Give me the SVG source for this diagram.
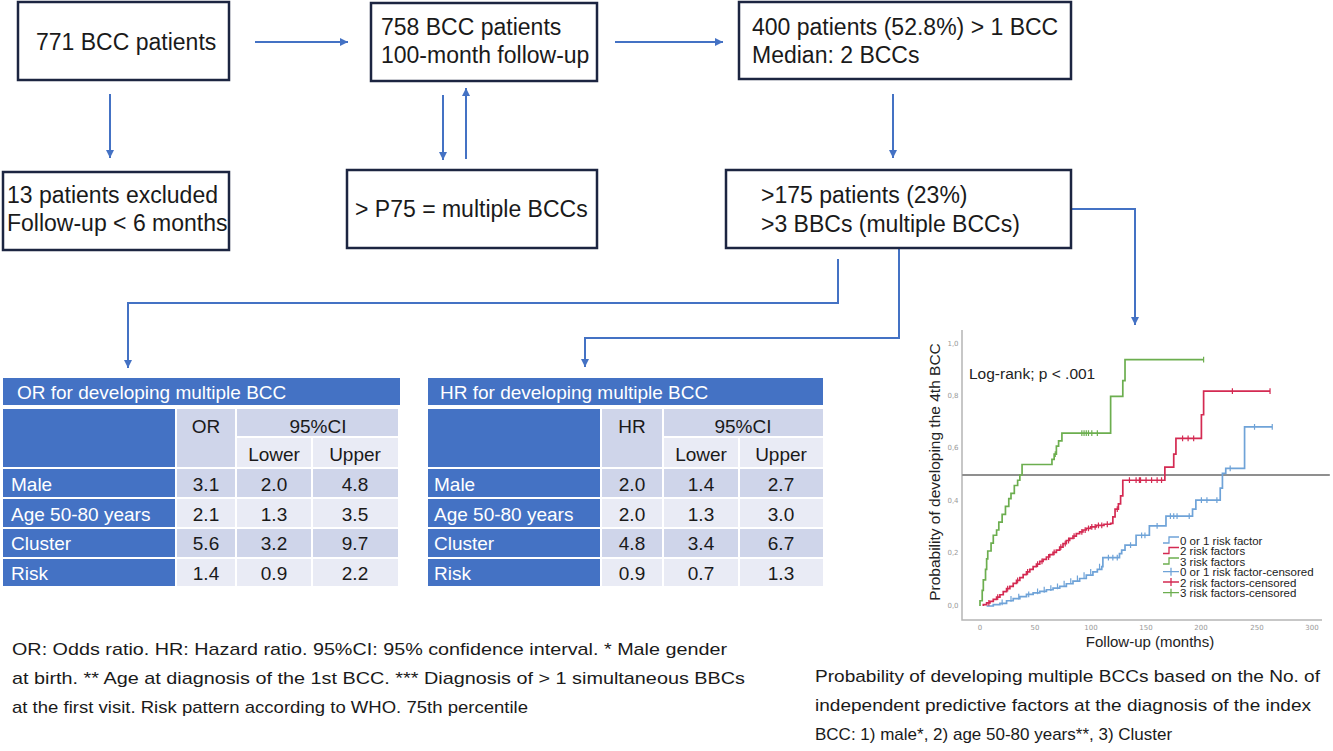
<svg xmlns="http://www.w3.org/2000/svg" width="1333" height="751" viewBox="0 0 1333 751">
<defs>
<style>
.box{fill:#fff;stroke:#1c2541;stroke-width:2.5}
.bt{font-family:"Liberation Sans",Arial,sans-serif;font-size:23px;fill:#1a1a1a}
.con{fill:none;stroke:#4472c4;stroke-width:2}
.hd{fill:#4472c4}
.c1{fill:#cfd5ea}
.c2{fill:#e9ebf5}
.tt{font-family:"Liberation Sans",Arial,sans-serif;font-size:19px;fill:#fff}
.td{font-family:"Liberation Sans",Arial,sans-serif;font-size:19px;fill:#1a1a1a;text-anchor:middle}
.note{font-family:"Liberation Sans",Arial,sans-serif;font-size:17px;fill:#1a1a1a}
.tick{font-family:"DejaVu Sans",sans-serif;font-size:7px;fill:#999;text-anchor:middle}
.lg{font-family:"Liberation Sans",Arial,sans-serif;font-size:11.5px;fill:#222}
.km{fill:none;stroke-width:1.7;vector-effect:non-scaling-stroke}
.cs{fill:none;stroke-width:1.2;vector-effect:non-scaling-stroke}
</style>
<marker id="ah" markerUnits="userSpaceOnUse" markerWidth="9" markerHeight="8" refX="8" refY="4" orient="auto">
<path d="M0,0 L8,4 L0,8 z" fill="#4472c4"/>
</marker>
</defs>
<rect width="1333" height="751" fill="#fff"/>

<g id="connectors">
<path class="con" d="M255,42 H348" marker-end="url(#ah)"/>
<path class="con" d="M615,42 H723" marker-end="url(#ah)"/>
<path class="con" d="M110,94 V158" marker-end="url(#ah)"/>
<path class="con" d="M443,95 V160" marker-end="url(#ah)"/>
<path class="con" d="M466,159 V88" marker-end="url(#ah)"/>
<path class="con" d="M893,94 V158" marker-end="url(#ah)"/>
<path class="con" d="M1071,209 H1135 V325" marker-end="url(#ah)"/>
<path class="con" d="M838,259 V303 H128 V368" marker-end="url(#ah)"/>
<path class="con" d="M899,248 V338 H585 V367" marker-end="url(#ah)"/>
</g>

<g id="n-771">
<rect class="box" x="18" y="2" width="211" height="78"/>
<text class="bt" x="36" y="50">771 BCC patients</text>
</g>
<g id="n-758">
<rect class="box" x="371" y="3" width="226" height="78"/>
<text class="bt" x="381" y="35">758 BCC patients</text>
<text class="bt" x="381" y="63">100-month follow-up</text>
</g>
<g id="n-400">
<rect class="box" x="739" y="2" width="332" height="77"/>
<text class="bt" x="752" y="35">400 patients (52.8%) &gt; 1 BCC</text>
<text class="bt" x="752" y="63">Median: 2 BCCs</text>
</g>
<g id="n-excluded">
<rect class="box" x="3" y="172" width="226" height="78"/>
<text class="bt" x="7" y="203">13 patients excluded</text>
<text class="bt" x="7" y="231">Follow-up &lt; 6 months</text>
</g>
<g id="n-p75">
<rect class="box" x="347" y="170" width="250" height="78"/>
<text class="bt" x="355" y="217">&gt; P75 = multiple BCCs</text>
</g>
<g id="n-175">
<rect class="box" x="726" y="170" width="345" height="78"/>
<text class="bt" x="761" y="203">&gt;175 patients (23%)</text>
<text class="bt" x="761" y="232">&gt;3 BBCs (multiple BCCs)</text>
</g>

<g id="t-or">
<rect class="hd" x="3" y="378" width="397" height="27"/>
<text class="tt" x="17" y="399">OR for developing multiple BCC</text>
<rect class="hd" x="3" y="409" width="172" height="58"/>
<rect class="c1" x="177" y="409" width="58" height="58"/>
<rect class="c1" x="237" y="409" width="161" height="27"/>
<rect class="c2" x="237" y="438" width="74" height="29"/>
<rect class="c2" x="313" y="438" width="85" height="29"/>
<text class="td" x="206" y="433">OR</text>
<text class="td" x="318" y="433">95%CI</text>
<text class="td" x="274" y="461">Lower</text>
<text class="td" x="355" y="461">Upper</text>
<rect class="hd" x="3" y="469" width="172" height="28"/>
<rect class="hd" x="3" y="499" width="172" height="28"/>
<rect class="hd" x="3" y="529" width="172" height="28"/>
<rect class="hd" x="3" y="559" width="172" height="27"/>
<rect class="c1" x="177" y="469" width="58" height="28"/><rect class="c1" x="237" y="469" width="74" height="28"/><rect class="c1" x="313" y="469" width="85" height="28"/>
<rect class="c2" x="177" y="499" width="58" height="28"/><rect class="c2" x="237" y="499" width="74" height="28"/><rect class="c2" x="313" y="499" width="85" height="28"/>
<rect class="c1" x="177" y="529" width="58" height="28"/><rect class="c1" x="237" y="529" width="74" height="28"/><rect class="c1" x="313" y="529" width="85" height="28"/>
<rect class="c2" x="177" y="559" width="58" height="27"/><rect class="c2" x="237" y="559" width="74" height="27"/><rect class="c2" x="313" y="559" width="85" height="27"/>
<text class="tt" x="11" y="491">Male</text>
<text class="tt" x="11" y="521">Age 50-80 years</text>
<text class="tt" x="11" y="550">Cluster</text>
<text class="tt" x="11" y="580">Risk</text>
<text class="td" x="206" y="491">3.1</text><text class="td" x="274" y="491">2.0</text><text class="td" x="355" y="491">4.8</text>
<text class="td" x="206" y="521">2.1</text><text class="td" x="274" y="521">1.3</text><text class="td" x="355" y="521">3.5</text>
<text class="td" x="206" y="550">5.6</text><text class="td" x="274" y="550">3.2</text><text class="td" x="355" y="550">9.7</text>
<text class="td" x="206" y="580">1.4</text><text class="td" x="274" y="580">0.9</text><text class="td" x="355" y="580">2.2</text>
</g>

<g id="t-hr">
<rect class="hd" x="428" y="378" width="395" height="27"/>
<text class="tt" x="440" y="399">HR for developing multiple BCC</text>
<rect class="hd" x="428" y="409" width="172" height="58"/>
<rect class="c1" x="602" y="409" width="60" height="58"/>
<rect class="c1" x="664" y="409" width="159" height="27"/>
<rect class="c2" x="664" y="438" width="74" height="29"/>
<rect class="c2" x="740" y="438" width="83" height="29"/>
<text class="td" x="632" y="433">HR</text>
<text class="td" x="743" y="433">95%CI</text>
<text class="td" x="701" y="461">Lower</text>
<text class="td" x="781" y="461">Upper</text>
<rect class="hd" x="428" y="469" width="172" height="28"/>
<rect class="hd" x="428" y="499" width="172" height="28"/>
<rect class="hd" x="428" y="529" width="172" height="28"/>
<rect class="hd" x="428" y="559" width="172" height="27"/>
<rect class="c1" x="602" y="469" width="60" height="28"/><rect class="c1" x="664" y="469" width="74" height="28"/><rect class="c1" x="740" y="469" width="83" height="28"/>
<rect class="c2" x="602" y="499" width="60" height="28"/><rect class="c2" x="664" y="499" width="74" height="28"/><rect class="c2" x="740" y="499" width="83" height="28"/>
<rect class="c1" x="602" y="529" width="60" height="28"/><rect class="c1" x="664" y="529" width="74" height="28"/><rect class="c1" x="740" y="529" width="83" height="28"/>
<rect class="c2" x="602" y="559" width="60" height="27"/><rect class="c2" x="664" y="559" width="74" height="27"/><rect class="c2" x="740" y="559" width="83" height="27"/>
<text class="tt" x="434" y="491">Male</text>
<text class="tt" x="434" y="521">Age 50-80 years</text>
<text class="tt" x="434" y="550">Cluster</text>
<text class="tt" x="434" y="580">Risk</text>
<text class="td" x="632" y="491">2.0</text><text class="td" x="701" y="491">1.4</text><text class="td" x="781" y="491">2.7</text>
<text class="td" x="632" y="521">2.0</text><text class="td" x="701" y="521">1.3</text><text class="td" x="781" y="521">3.0</text>
<text class="td" x="632" y="550">4.8</text><text class="td" x="701" y="550">3.4</text><text class="td" x="781" y="550">6.7</text>
<text class="td" x="632" y="580">0.9</text><text class="td" x="701" y="580">0.7</text><text class="td" x="781" y="580">1.3</text>
</g>

<g id="chart">
<path d="M962,330 V620 H1322" fill="none" stroke="#b5b5b5" stroke-width="1.5"/>
<text class="tick" x="953" y="346">1,0</text>
<text class="tick" x="953" y="398">0,8</text>
<text class="tick" x="953" y="450">0,6</text>
<text class="tick" x="953" y="503">0,4</text>
<text class="tick" x="953" y="555">0,2</text>
<text class="tick" x="953" y="608">0,0</text>
<text class="tick" x="980" y="630">0</text>
<text class="tick" x="1035" y="630">50</text>
<text class="tick" x="1091" y="630">100</text>
<text class="tick" x="1146" y="630">150</text>
<text class="tick" x="1201" y="630">200</text>
<text class="tick" x="1257" y="630">250</text>
<text class="tick" x="1312" y="630">300</text>
<text x="940" y="472" transform="rotate(-90 940 472)" text-anchor="middle" font-family="Liberation Sans, Arial, sans-serif" font-size="15.5" fill="#222">Probability of developing the 4th BCC</text>
<text x="1150" y="647" text-anchor="middle" font-family="Liberation Sans, Arial, sans-serif" font-size="15" fill="#222">Follow-up (months)</text>
<text x="969" y="379" font-family="Liberation Sans, Arial, sans-serif" font-size="15.5" fill="#222">Log-rank; p &lt; .001</text>
<g transform="translate(980,606) scale(1.107,-262)">
<path class="km" stroke="#6a6a6a" d="M-16,0.5 H316"/>
<path class="km" stroke="#6fa3d8" d="M6,0 H12 V0.005 H18 V0.01 H24 V0.02 H30 V0.028 H36 V0.036 H42 V0.044 H48 V0.05 H54 V0.056 H60 V0.062 H66 V0.068 H72 V0.075 H78 V0.085 H84 V0.095 H90 V0.105 H96 V0.118 H102 V0.13 H106 V0.14 H110 V0.15 H111 V0.185 H126 V0.2 H128 V0.213 H131 V0.232 H141 V0.27 H153 V0.306 H168 V0.343 H192 V0.37 H195 V0.404 H217 V0.45 H219 V0.506 H222 V0.525 H239 V0.684 H264"/>
<path class="km" stroke="#d42a52" d="M3,0 V0.005 H6 V0.012 H9 V0.018 H12 V0.025 H15 V0.034 H18 V0.043 H21 V0.055 H24 V0.066 H27 V0.075 H30 V0.086 H33 V0.098 H36 V0.108 H39 V0.12 H42 V0.13 H45 V0.14 H48 V0.15 H51 V0.16 H54 V0.17 H57 V0.178 H60 V0.187 H63 V0.196 H66 V0.205 H69 V0.213 H72 V0.225 H75 V0.238 H78 V0.25 H81 V0.258 H84 V0.267 H87 V0.276 H90 V0.283 H93 V0.29 H96 V0.296 H100 V0.302 H105 V0.308 H112 V0.312 H118 V0.315 H120 V0.34 H122 V0.37 H125 V0.39 H127 V0.42 H129 V0.48 H167 V0.53 H175 V0.58 H177 V0.64 H200 V0.73 H202 V0.82 H262"/>
<path class="km" stroke="#6cae4f" d="M0,0 V0.02 H2 V0.06 H3 V0.1 H5 V0.14 H6 V0.18 H7 V0.21 H10 V0.24 H12 V0.27 H15 V0.29 H17 V0.32 H20 V0.35 H23 V0.38 H26 V0.41 H28 V0.43 H31 V0.46 H34 V0.48 H36 V0.5 H38 V0.54 H65 V0.56 H67 V0.58 H69 V0.61 H71 V0.63 H74 V0.66 H118 V0.8 H129 V0.86 H131 V0.94 H202"/>
<path class="cs" stroke="#6fa3d8" d="M20,0.003 v0.022 M28,0.016 v0.022 M35,0.025 v0.022 M44,0.033 v0.022 M52,0.045 v0.022 M58,0.051 v0.022 M64,0.057 v0.022 M70,0.064 v0.022 M76,0.074 v0.022 M82,0.084 v0.022 M88,0.094 v0.022 M94,0.107 v0.022 M100,0.119 v0.022 M108,0.139 v0.022 M116,0.174 v0.022 M120,0.174 v0.022 M124,0.174 v0.022 M136,0.221 v0.022 M146,0.259 v0.022 M149,0.259 v0.022 M160,0.295 v0.022 M172,0.332 v0.022 M175,0.332 v0.022 M178,0.332 v0.022 M189,0.332 v0.022 M200,0.393 v0.022 M205,0.393 v0.022 M214,0.393 v0.022 M226,0.514 v0.022 M248,0.673 v0.022 M264,0.673 v0.022"/>
<path class="cs" stroke="#d42a52" d="M8,0.001 v0.022 M16,0.023 v0.022 M25,0.055 v0.022 M34,0.087 v0.022 M43,0.119 v0.022 M52,0.149 v0.022 M56,0.159 v0.022 M62,0.176 v0.022 M67,0.194 v0.022 M73,0.214 v0.022 M77,0.227 v0.022 M80,0.239 v0.022 M85,0.256 v0.022 M92,0.272 v0.022 M95,0.279 v0.022 M98,0.285 v0.022 M101,0.291 v0.022 M104,0.291 v0.022 M107,0.297 v0.022 M110,0.297 v0.022 M115,0.301 v0.022 M124,0.359 v0.022 M135,0.469 v0.022 M141,0.469 v0.022 M144,0.469 v0.022 M145,0.469 v0.022 M150,0.469 v0.022 M155,0.469 v0.022 M160,0.469 v0.022 M164,0.469 v0.022 M183,0.629 v0.022 M188,0.629 v0.022 M193,0.629 v0.022 M228,0.809 v0.022 M262,0.809 v0.022"/>
<path class="cs" stroke="#6cae4f" d="M68,0.569 v0.022 M92,0.649 v0.022 M94,0.649 v0.022 M96,0.649 v0.022 M98,0.649 v0.022 M101,0.649 v0.022 M106,0.649 v0.022 M202,0.929 v0.022"/>
</g>
<g id="legend">
<path d="M1163,543 h6 v-6 h10" fill="none" stroke="#6fa3d8" stroke-width="1.3"/>
<path d="M1163,553.5 h6 v-6 h10" fill="none" stroke="#d42a52" stroke-width="1.3"/>
<path d="M1163,564 h6 v-6 h10" fill="none" stroke="#6cae4f" stroke-width="1.3"/>
<path d="M1163,571.7 h16 M1171,567.7 v8" fill="none" stroke="#6fa3d8" stroke-width="1.3"/>
<path d="M1163,582 h16 M1171,578 v8" fill="none" stroke="#d42a52" stroke-width="1.3"/>
<path d="M1163,592.7 h16 M1171,588.7 v8" fill="none" stroke="#6cae4f" stroke-width="1.3"/>
<text class="lg" x="1180" y="544.5">0 or 1 risk factor</text>
<text class="lg" x="1180" y="555">2 risk factors</text>
<text class="lg" x="1180" y="565.5">3 risk factors</text>
<text class="lg" x="1180" y="576">0 or 1 risk factor-censored</text>
<text class="lg" x="1180" y="586.5">2 risk factors-censored</text>
<text class="lg" x="1180" y="597">3 risk factors-censored</text>
</g>
</g>

<g id="footnote">
<text class="note" x="12" y="655" textLength="715" lengthAdjust="spacingAndGlyphs">OR: Odds ratio. HR: Hazard ratio. 95%CI: 95% confidence interval. * Male gender</text>
<text class="note" x="12" y="684" textLength="733" lengthAdjust="spacingAndGlyphs">at birth. ** Age at diagnosis of the 1st BCC. *** Diagnosis of &gt; 1 simultaneous BBCs</text>
<text class="note" x="12" y="713" textLength="516" lengthAdjust="spacingAndGlyphs">at the first visit. Risk pattern according to WHO. 75th percentile</text>
</g>
<g id="caption">
<text class="note" x="815" y="682" font-size="18" textLength="505" lengthAdjust="spacingAndGlyphs">Probability of developing multiple BCCs based on the No. of</text>
<text class="note" x="815" y="711" font-size="18" textLength="496" lengthAdjust="spacingAndGlyphs">independent predictive factors at the diagnosis of the index</text>
<text class="note" x="815" y="740" font-size="18">BCC: 1) male*, 2) age 50-80 years**, 3) Cluster</text>
</g>
</svg>
